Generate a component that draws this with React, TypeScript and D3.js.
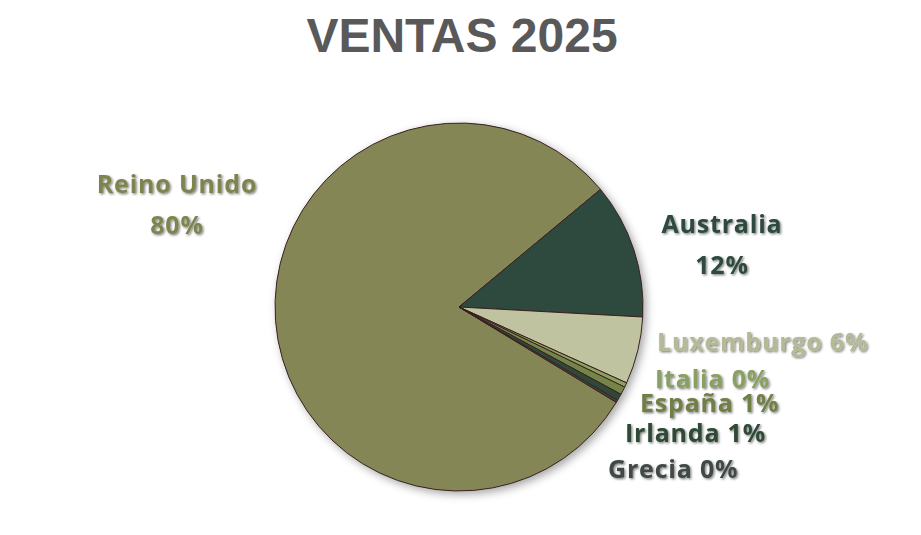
import React from "react";
import * as d3 from "d3";

const categories = ["Reino Unido", "Australia", "Luxemburgo", "Italia", "España", "Irlanda", "Grecia"];
const values = [80.3, 11.9, 5.9, 0.4, 0.7, 0.6, 0.2];
const sliceColors = ["#848654", "#2f4a3d", "#bfc39f", "#8ea060", "#75854a", "#2e4a37", "#3e4641"];
const labelColors = ["#7f8450", "#2f4a3d", "#b5b996", "#8aa063", "#6f7f44", "#2f4a35", "#404a44"];
const title = "VENTAS 2025";

// layout: label anchor offsets from pie centre, text anchor, two-line flag
const labelLayout: { dx: number; dy: number; anchor: string; twoLine: boolean }[] = [
  { dx: -282, dy: -114, anchor: "middle", twoLine: true },
  { dx: 263, dy: -74, anchor: "middle", twoLine: true },
  { dx: 198, dy: 44, anchor: "start", twoLine: false },
  { dx: 196, dy: 81, anchor: "start", twoLine: false },
  { dx: 181, dy: 105, anchor: "start", twoLine: false },
  { dx: 166, dy: 135, anchor: "start", twoLine: false },
  { dx: 149, dy: 171, anchor: "start", twoLine: false },
];

const W = 921;
const H = 535;
const cx = 459;
const cy = 307;
const R = 184;
const startDeg = 121.2;

export default function App() {
  const total = d3.sum(values);
  const pct = d3.format(".0%");
  const pie = d3
    .pie<number>()
    .sort(null)
    .value((d) => d)
    .startAngle((startDeg * Math.PI) / 180)
    .endAngle(((startDeg + 360) * Math.PI) / 180);
  const arcs = pie(values);
  const arc = d3.arc<d3.PieArcDatum<number>>().innerRadius(0).outerRadius(R);

  return (
    <div style={{ position: "absolute", left: 0, top: 0 }}>
      <svg width={W} height={H} style={{ display: "block", background: "#fff" }}>
        <defs>
          <filter id="pieShadow" x="-20%" y="-20%" width="140%" height="140%">
            <feDropShadow dx="3" dy="3" stdDeviation="4" floodColor="#000" floodOpacity="0.35" />
          </filter>
          <filter id="txtShadow" x="-10%" y="-30%" width="120%" height="160%">
            <feDropShadow dx="1.3" dy="1.3" stdDeviation="0.9" floodColor="#000" floodOpacity="0.5" />
          </filter>
        </defs>
        <text
          x={462}
          y={52}
          textAnchor="middle"
          fontFamily="Liberation Sans, Arial, sans-serif"
          fontWeight="bold"
          fontSize={48}
          fill="#595959"
        >
          {title}
        </text>
        <g transform={`translate(${cx},${cy})`}>
          <g filter="url(#pieShadow)">
            {arcs.map((a, i) => (
              <path key={i} d={arc(a) || ""} fill={sliceColors[i]} stroke="#3a2020" strokeWidth={1} strokeLinejoin="round" />
            ))}
          </g>
          <g
            filter="url(#txtShadow)"
            fontFamily="'Open Sans', Lato, sans-serif"
            fontWeight="bold"
            fontSize={25}
            letterSpacing={0.8}
          >
            {categories.map((c, i) => {
              const L = labelLayout[i];
              const p = pct(values[i] / total);
              return L.twoLine ? (
                <text key={c} x={L.dx} y={L.dy} textAnchor={L.anchor} fill={labelColors[i]}>
                  <tspan x={L.dx}>{c}</tspan>
                  <tspan x={L.dx} dy={41}>{p}</tspan>
                </text>
              ) : (
                <text key={c} x={L.dx} y={L.dy} textAnchor={L.anchor} fill={labelColors[i]}>
                  {`${c} ${p}`}
                </text>
              );
            })}
          </g>
        </g>
      </svg>
    </div>
  );
}
